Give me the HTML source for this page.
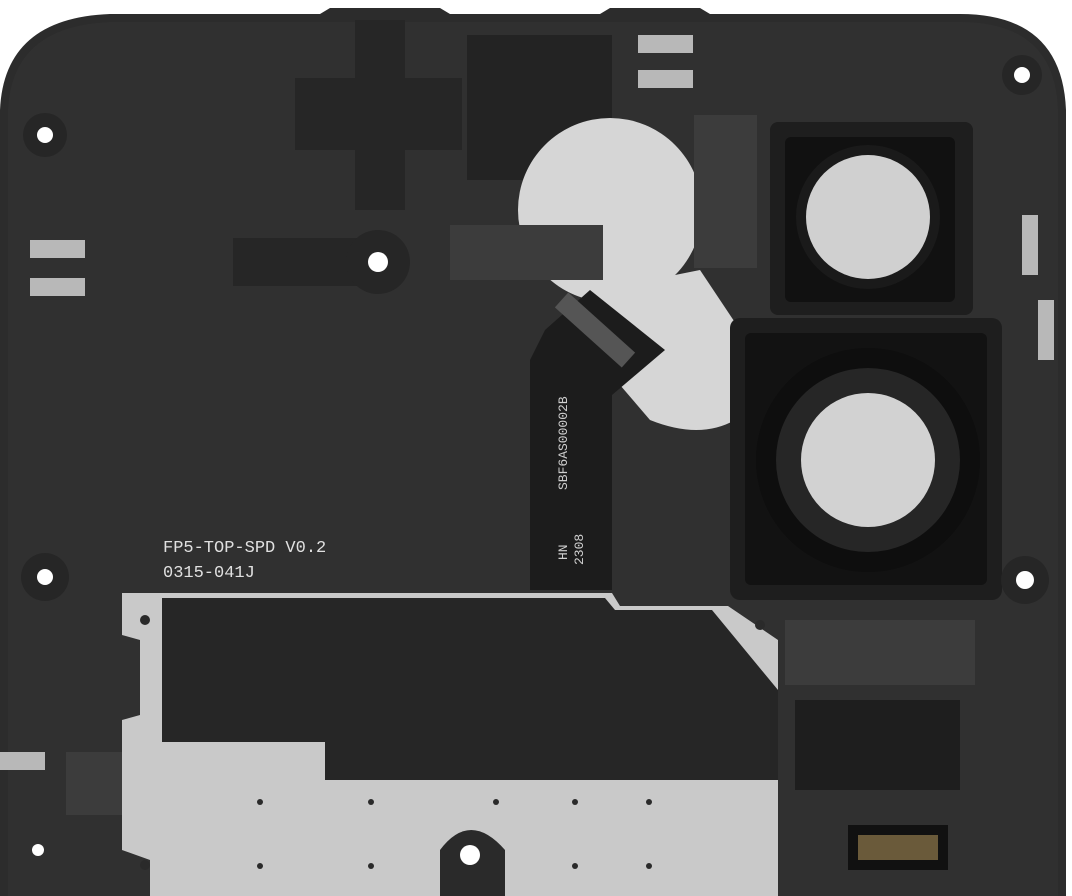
<!DOCTYPE html>
<html><head><style>
html,body{margin:0;padding:0;background:#fff;}
svg{display:block}
</style></head><body>
<svg width="1072" height="896" viewBox="0 0 1072 896" xmlns="http://www.w3.org/2000/svg">
<path d="M110,14 H320 L330,8 H440 L450,14 H600 L610,8 H700 L710,14 H960 Q1062,14 1066,110 V896 H0 V110 Q4,18 110,14 Z" fill="#2c2c2c"/>
<path d="M110,22 H960 Q1055,22 1058,110 V896 H8 V110 Q12,26 110,22 Z" fill="#303030"/>
<path d="M355,20 H405 V78 H462 V150 H405 V210 H355 V150 H295 V78 H355 Z" fill="#262626"/>
<rect x="467" y="35" width="145" height="145" fill="#232323"/>
<circle cx="610" cy="210" r="92" fill="#d6d6d6"/>
<path d="M600,290 L700,270 L740,330 L735,420 Q700,440 650,420 L590,350 Z" fill="#d6d6d6"/>
<circle cx="690" cy="370" r="55" fill="#d6d6d6"/>
<path d="M545,330 L590,290 L665,350 L612,395 V590 H530 V360 Z" fill="#1c1c1c"/>
<rect x="585" y="285" width="20" height="90" transform="rotate(-48 595 330)" fill="#555"/>
<text transform="translate(567,490) rotate(-90)" font-family="Liberation Mono, monospace" font-size="13" fill="#cfcfcf">SBF6AS00002B</text>
<text transform="translate(567,560) rotate(-90)" font-family="Liberation Mono, monospace" font-size="13" fill="#cfcfcf">HN</text>
<text transform="translate(583,565) rotate(-90)" font-family="Liberation Mono, monospace" font-size="13" fill="#cfcfcf">2308</text>
<rect x="450" y="225" width="153" height="55" fill="#3c3c3c"/>
<rect x="694" y="115" width="63" height="153" fill="#3c3c3c"/>
<rect x="785" y="620" width="190" height="65" fill="#3c3c3c"/>
<rect x="66" y="752" width="59" height="63" fill="#3c3c3c"/>
<rect x="770" y="122" width="203" height="193" rx="8" fill="#1e1e1e"/>
<rect x="785" y="137" width="170" height="165" rx="6" fill="#111"/>
<circle cx="868" cy="217" r="72" fill="#1a1a1a"/>
<circle cx="868" cy="217" r="62" fill="#d0d0d0"/>
<rect x="730" y="318" width="272" height="282" rx="10" fill="#1e1e1e"/>
<rect x="745" y="333" width="242" height="252" rx="6" fill="#121212"/>
<circle cx="868" cy="460" r="112" fill="#0e0e0e"/>
<circle cx="868" cy="460" r="92" fill="#262626"/>
<circle cx="868" cy="460" r="67" fill="#d2d2d2"/>
<text x="163" y="552" font-family="Liberation Mono, monospace" font-size="17" fill="#e0e0e0">FP5-TOP-SPD V0.2</text>
<text x="163" y="577" font-family="Liberation Mono, monospace" font-size="17" fill="#e0e0e0">0315-041J</text>
<path d="M122,593 H612 L620,606 H728 L778,640 V896 H150 V860 L122,850 V720 L140,715 V640 L122,635 Z" fill="#c9c9c9"/>
<path d="M162,598 H605 L615,610 H712 L778,690 V780 H325 V742 H162 Z" fill="#262626"/>
<g fill="#2a2a2a">
<circle cx="145" cy="620" r="5"/><circle cx="760" cy="625" r="5"/><circle cx="145" cy="865" r="5"/>
<circle cx="260" cy="802" r="3"/><circle cx="371" cy="802" r="3"/><circle cx="496" cy="802" r="3"/><circle cx="575" cy="802" r="3"/><circle cx="649" cy="802" r="3"/>
<circle cx="260" cy="866" r="3"/><circle cx="371" cy="866" r="3"/><circle cx="575" cy="866" r="3"/><circle cx="649" cy="866" r="3"/>
</g>
<path d="M440,896 V850 Q470,810 505,850 V896 Z" fill="#2a2a2a"/>
<rect x="795" y="700" width="165" height="90" fill="#1e1e1e"/>
<rect x="848" y="825" width="100" height="45" fill="#111"/>
<rect x="858" y="835" width="80" height="25" fill="#6a5a3a"/>
<rect x="233" y="238" width="145" height="48" fill="#262626"/>
<g fill="#262626">
<circle cx="378" cy="262" r="32"/><circle cx="45" cy="135" r="22"/><circle cx="45" cy="577" r="24"/><circle cx="1025" cy="580" r="24"/><circle cx="1022" cy="75" r="20"/>
</g>
<g fill="#fff">
<circle cx="45" cy="135" r="8"/><circle cx="378" cy="262" r="10"/><circle cx="1022" cy="75" r="8"/>
<circle cx="45" cy="577" r="8"/><circle cx="1025" cy="580" r="9"/><circle cx="470" cy="855" r="10"/><circle cx="38" cy="850" r="6"/>
</g>
<g fill="#b8b8b8">
<rect x="30" y="240" width="55" height="18"/><rect x="30" y="278" width="55" height="18"/>
<rect x="638" y="35" width="55" height="18"/><rect x="638" y="70" width="55" height="18"/>
<rect x="1022" y="215" width="16" height="60"/><rect x="1038" y="300" width="16" height="60"/>
<rect x="0" y="752" width="45" height="18"/>
</g>
</svg>
</body></html>
